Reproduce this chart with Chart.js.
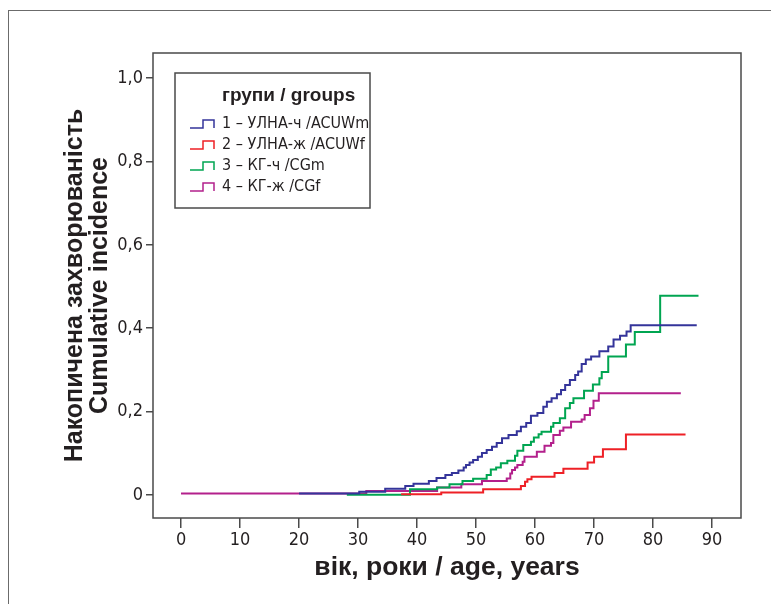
<!DOCTYPE html>
<html>
<head>
<meta charset="utf-8">
<script src="https://cdn.jsdelivr.net/npm/chart.js@4.4.0/dist/chart.umd.min.js"></script>
<style>
    html, body { margin: 0; padding: 0; background: #fff; }
    #wrap { position: relative; width: 771px; height: 604px; overflow: hidden; }
    #frame { position: absolute; left: 8px; top: 10px; width: 800px; height: 640px;
             border-left: 1.5px solid #6b6b6b; border-top: 1.5px solid #6b6b6b; }
    canvas { position: absolute; left: 0; top: 0; }
</style>
</head>
<body>
<div id="wrap">
    <div id="frame"></div>
    <canvas id="incidenceChart" width="771" height="604"></canvas>
</div>
<script>
// group 1 - УЛНА-ч / ACUWm
var agesAcuwm = [20, 30.2, 34.6, 38, 39.4, 42, 43.3, 44.8, 45.9, 47, 47.9, 48.3, 48.9, 49.5, 50.3, 51, 51.8,
    52.7, 53.5, 54.4, 55.5, 56.9, 57.6, 58.5, 59.3, 60.4, 61.4, 62, 62.8, 63.7, 64.4, 65.1, 65.9, 66.8,
    67.3, 67.9, 68.6, 69.5, 70.9, 72.4, 73.3, 74.4, 75.5, 76.2, 87.4];
var incAcuwm = [0.004, 0.008, 0.015, 0.022, 0.027, 0.034, 0.041, 0.048, 0.053, 0.059, 0.066, 0.072, 0.078, 0.084, 0.092, 0.101, 0.108,
    0.116, 0.125, 0.136, 0.144, 0.153, 0.164, 0.173, 0.19, 0.197, 0.212, 0.224, 0.232, 0.242, 0.252, 0.264, 0.276, 0.288,
    0.296, 0.314, 0.325, 0.332, 0.345, 0.356, 0.373, 0.382, 0.392, 0.407, 0.407];

// group 2 - УЛНА-ж / ACUWf
var agesAcuwf = [37.3, 44.1, 51.2, 57.6, 58.3, 58.7, 59.4, 63.3, 64.8, 68.9, 70, 71.5, 75.4, 85.5];
var incAcuwf = [0.002, 0.006, 0.014, 0.022, 0.032, 0.038, 0.044, 0.053, 0.063, 0.078, 0.092, 0.11, 0.145, 0.145];

// group 3 - КГ-ч / CGm
var agesCgm = [28.1, 38.8, 43.4, 45.5, 47.7, 49.5, 51.8, 52.5, 53.4, 54.2, 55.3, 56.6, 57, 58, 59.3, 59.8, 60.6,
    61.1, 62.7, 63.1, 64.2, 65.1, 65.9, 66.5, 68.3, 69.8, 70.9, 71.3, 72.4, 75.4, 76.9, 81.2, 87.7];
var incCgm = [0.001, 0.014, 0.018, 0.026, 0.034, 0.039, 0.048, 0.061, 0.066, 0.076, 0.082, 0.094, 0.106, 0.12, 0.128, 0.138, 0.146,
    0.152, 0.164, 0.173, 0.184, 0.208, 0.221, 0.232, 0.25, 0.265, 0.28, 0.295, 0.332, 0.361, 0.391, 0.478, 0.478];

// group 4 - КГ-ж / CGf
var agesCgf = [0, 31.4, 43.4, 47.5, 51, 55.2, 55.8, 56.1, 56.6, 57, 57.9, 58.2, 60.3, 61.6, 62.7, 63.1, 64.2,
    64.8, 66.1, 67.9, 68.4, 69.3, 69.9, 70.8, 84.7];
var incCgf = [0.004, 0.01, 0.018, 0.026, 0.034, 0.04, 0.052, 0.06, 0.066, 0.072, 0.08, 0.092, 0.104, 0.118, 0.125, 0.144, 0.154,
    0.162, 0.176, 0.181, 0.192, 0.208, 0.226, 0.244, 0.244];

var groupLabels = ["1 – УЛНА-ч /ACUWm", "2 – УЛНА-ж /ACUWf", "3 – КГ-ч /CGm", "4 – КГ-ж /CGf"];
var legendTitle = "групи / groups";
var xTickValues = [0, 10, 20, 30, 40, 50, 60, 70, 80, 90];
var yTickValues = [0, 0.2, 0.4, 0.6, 0.8, 1.0];
var yTickLabels = ["0", "0,2", "0,4", "0,6", "0,8", "1,0"];
var xTitle = "вік, роки / age, years";
var yTitle = ["Накопичена захворюваність", "Cumulative incidence"];

var colors = ["#34349a", "#ee2026", "#00a551", "#b3208c"];
var textColor = "#231f20";
var narrowFont = "'Liberation Sans Narrow', 'DejaVu Sans Condensed', sans-serif";
var boldFont = "'Liberation Sans', 'DejaVu Sans', sans-serif";

function toPoints(ages, values) {
    return ages.map(function (a, i) {
        return { x: a, y: values[i] };
    });
}

function makeSet(label, ages, values, color) {
    return {
        label: label,
        data: toPoints(ages, values),
        borderColor: color,
        backgroundColor: color,
        borderWidth: 2,
        pointRadius: 0,
        stepped: true,
        fill: false
    };
}

var boxPlugin = {
    id: "boxPlugin",
    beforeDatasetsDraw: function (chart) {
        var a = chart.chartArea;
        var ctx = chart.ctx;
        ctx.save();
        ctx.strokeStyle = "#4a4a4a";
        ctx.lineWidth = 1.5;
        ctx.strokeRect(a.left, a.top, a.right - a.left, a.bottom - a.top);
        ctx.restore();
    },
    afterDraw: function (chart) {
        var ctx = chart.ctx;
        ctx.save();
        // legend box
        ctx.strokeStyle = "#4a4a4a";
        ctx.lineWidth = 1.5;
        ctx.strokeRect(175, 73, 195, 135);
        ctx.fillStyle = textColor;
        ctx.textBaseline = "middle";
        ctx.textAlign = "left";
        ctx.font = "bold 19px " + boldFont;
        ctx.fillText(legendTitle, 222, 96);
        ctx.font = "16px " + narrowFont;
        for (var i = 0; i < groupLabels.length; i++) {
            var y = 124 + i * 21;
            ctx.strokeStyle = colors[i];
            ctx.lineWidth = 1.5;
            ctx.beginPath();
            ctx.moveTo(190, y + 4);
            ctx.lineTo(203, y + 4);
            ctx.lineTo(203, y - 4);
            ctx.lineTo(214, y - 4);
            ctx.lineTo(214, y + 4);
            ctx.stroke();
            ctx.fillText(groupLabels[i], 222, y);
        }
        ctx.restore();
    }
};

var ctx = document.getElementById("incidenceChart").getContext("2d");
var myChart = new Chart(ctx, {
    type: "line",
    data: {
        datasets: [
            makeSet(groupLabels[0], agesAcuwm, incAcuwm, colors[0]),
            makeSet(groupLabels[1], agesAcuwf, incAcuwf, colors[1]),
            makeSet(groupLabels[2], agesCgm, incCgm, colors[2]),
            makeSet(groupLabels[3], agesCgf, incCgf, colors[3])
        ]
    },
    options: {
        responsive: false,
        animation: false,
        layout: { padding: { left: 0, top: 53, right: 30, bottom: 0 } },
        plugins: {
            legend: { display: false },
            tooltip: { enabled: false }
        },
        scales: {
            x: {
                type: "linear",
                min: -4.75,
                max: 94.9,
                afterBuildTicks: function (scale) {
                    scale.ticks = xTickValues.map(function (v) { return { value: v }; });
                },
                afterFit: function (scale) { scale.height = 86; },
                grid: { drawOnChartArea: false, drawTicks: true, tickLength: 10, tickColor: "#4a4a4a", lineWidth: 1.5 },
                border: { display: false },
                ticks: {
                    color: textColor,
                    padding: 2,
                    maxRotation: 0,
                    autoSkip: false,
                    font: { family: narrowFont, size: 18 }
                },
                title: {
                    display: true,
                    text: xTitle,
                    color: textColor,
                    font: { family: boldFont, size: 26.5, weight: "bold", lineHeight: 1.2 },
                    padding: { top: 0, bottom: 20 }
                }
            },
            y: {
                type: "linear",
                min: -0.055,
                max: 1.06,
                afterBuildTicks: function (scale) {
                    scale.ticks = yTickValues.map(function (v) { return { value: v }; });
                },
                afterFit: function (scale) { scale.width = 153; },
                grid: { drawOnChartArea: false, drawTicks: true, tickLength: 7, tickColor: "#4a4a4a", lineWidth: 1.5 },
                border: { display: false },
                ticks: {
                    color: textColor,
                    padding: 3,
                    autoSkip: false,
                    font: { family: narrowFont, size: 18 },
                    callback: function (value, index) { return yTickLabels[index]; }
                },
                title: {
                    display: true,
                    text: yTitle,
                    color: textColor,
                    font: { family: boldFont, size: 25, weight: "bold", lineHeight: 1.0 },
                    padding: { top: 63, bottom: 0 }
                }
            }
        }
    },
    plugins: [boxPlugin]
});
</script>
</body>
</html>
